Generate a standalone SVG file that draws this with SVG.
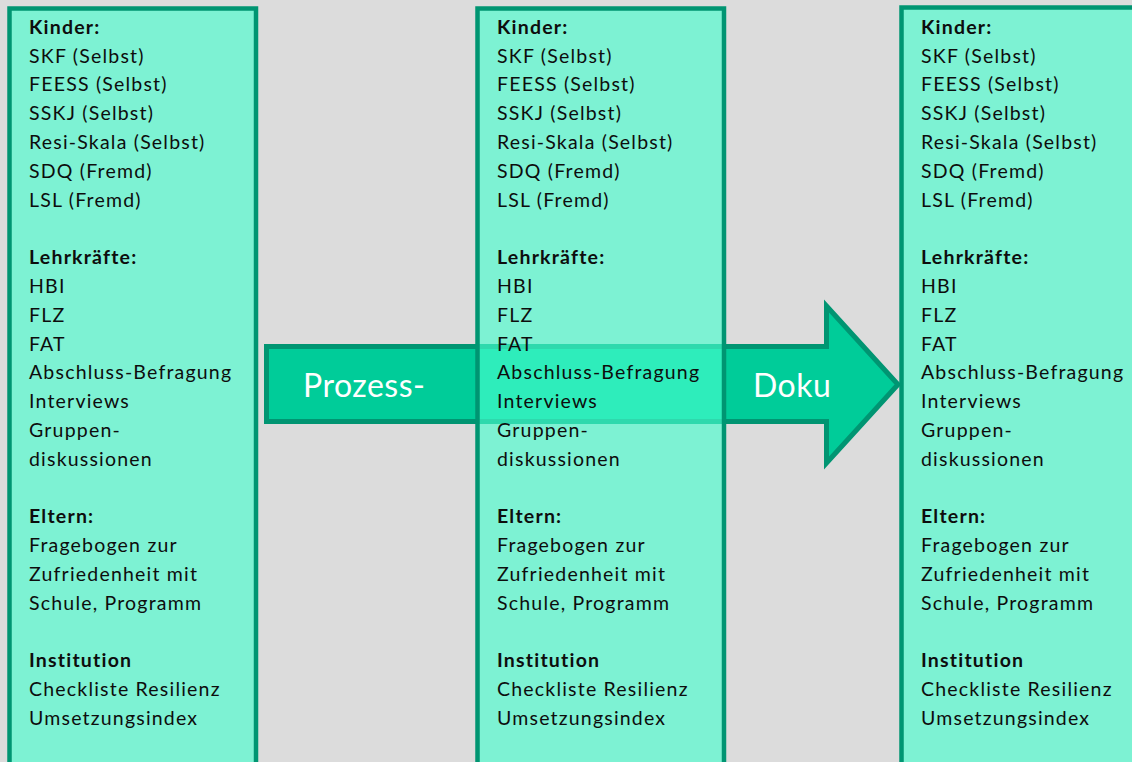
<svg xmlns="http://www.w3.org/2000/svg" width="1132" height="762" viewBox="0 0 1132 762">
<style>
.bg{fill:#dcdcdc}
.col{fill:rgb(72,255,207);fill-opacity:0.64;stroke:#009572;stroke-width:4.5}
.arrow{fill:#00cc99;stroke:#009572;stroke-width:5}
.t{font-family:Lato,"Liberation Sans",sans-serif;font-size:19.5px;letter-spacing:1.2px;fill:#0d0d0d}
.b{font-weight:bold}
.lab{font-family:Lato,"Liberation Sans",sans-serif;font-size:32px;letter-spacing:0.5px;fill:#ffffff}
</style>
<defs>
<g id="colText">
<text class="t b" x="0" y="33.7">Kinder:</text>
<text class="t" x="0" y="62.5">SKF (Selbst)</text>
<text class="t" x="0" y="91.3">FEESS (Selbst)</text>
<text class="t" x="0" y="120.1">SSKJ (Selbst)</text>
<text class="t" x="0" y="148.9">Resi-Skala (Selbst)</text>
<text class="t" x="0" y="177.7">SDQ (Fremd)</text>
<text class="t" x="0" y="206.5">LSL (Fremd)</text>
<text class="t b" x="0" y="264.1">Lehrkräfte:</text>
<text class="t" x="0" y="292.9">HBI</text>
<text class="t" x="0" y="321.7">FLZ</text>
<text class="t" x="0" y="350.5">FAT</text>
<text class="t" x="0" y="379.3">Abschluss-Befragung</text>
<text class="t" x="0" y="408.1">Interviews</text>
<text class="t" x="0" y="436.9">Gruppen-</text>
<text class="t" x="0" y="465.7">diskussionen</text>
<text class="t b" x="0" y="523.3">Eltern:</text>
<text class="t" x="0" y="552.1">Fragebogen zur</text>
<text class="t" x="0" y="580.9">Zufriedenheit mit</text>
<text class="t" x="0" y="609.7">Schule, Programm</text>
<text class="t b" x="0" y="667.3">Institution</text>
<text class="t" x="0" y="696.1">Checkliste Resilienz</text>
<text class="t" x="0" y="724.9">Umsetzungsindex</text>
</g>
</defs>
<rect class="bg" x="0" y="0" width="1132" height="762"/>
<g id="connectors">
<g id="process-arrow">
<polygon class="arrow" points="266.5,346.5 826.5,346.5 826.5,306 898,384.5 826.5,463 826.5,421.5 266.5,421.5"/>
<text class="lab" x="303" y="397">Prozess-</text>
<text class="lab" x="753" y="397">Doku</text>
</g>
</g>
<g id="column-1">
<rect class="col" x="9.5" y="8.5" width="246.5" height="780"/>
<use href="#colText" x="29" y="0"/>
</g>
<g id="column-2">
<rect class="col" x="477.5" y="8.5" width="246.5" height="780"/>
<use href="#colText" x="497" y="0"/>
</g>
<g id="column-3">
<rect class="col" x="901.5" y="7.5" width="246.5" height="780"/>
<use href="#colText" x="921" y="0"/>
</g>
</svg>
